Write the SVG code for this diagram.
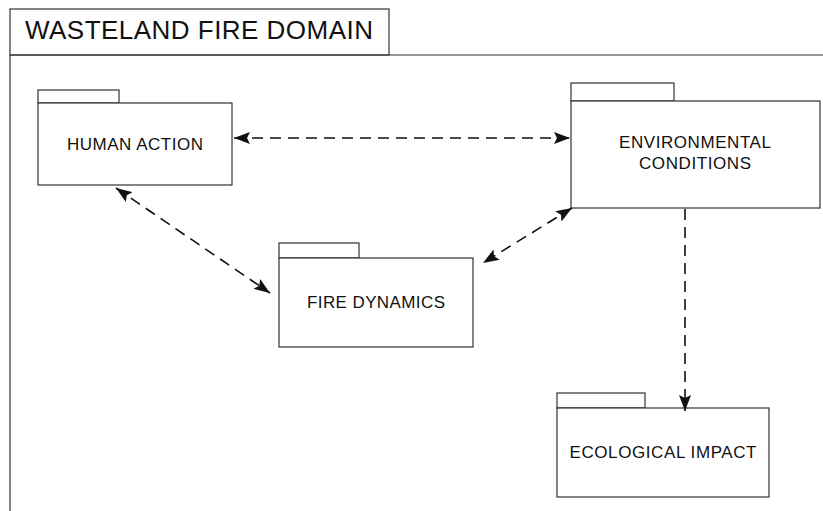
<svg xmlns="http://www.w3.org/2000/svg" width="823" height="511" viewBox="0 0 823 511">
<style>
.box{fill:#fff;stroke:#333;stroke-width:1.2}
.lbl{font-family:"Liberation Sans",Arial,sans-serif;font-size:17px;fill:#111;text-anchor:middle}
.title{font-family:"Liberation Sans",Arial,sans-serif;font-size:26px;fill:#111}
.conn{stroke:#111;stroke-width:1.6;stroke-dasharray:11 7;fill:none}
</style>
<defs>
<marker id="ah" viewBox="0 0 16 12" refX="16" refY="6" markerWidth="16" markerHeight="12" markerUnits="userSpaceOnUse" orient="auto-start-reverse">
<path d="M0,0 L16,6 L0,12 L3,6 Z" fill="#111"/>
</marker>
</defs>
<rect width="823" height="511" fill="#fff"/>
<g id="frame">
<rect class="box" x="10" y="9" width="379" height="46"/>
<path d="M10,55 H823 M10,55 V511" stroke="#333" stroke-width="1.2" fill="none"/>
<text class="title" x="25" y="39" textLength="348">WASTELAND FIRE DOMAIN</text>
</g>
<g id="human-action">
<rect class="box" x="38" y="90" width="81" height="13"/>
<rect class="box" x="38" y="103" width="194" height="82"/>
<text class="lbl" x="135" y="150" textLength="136">HUMAN ACTION</text>
</g>
<g id="environmental-conditions">
<rect class="box" x="571" y="83" width="103" height="18"/>
<rect class="box" x="571" y="101" width="249" height="107"/>
<text class="lbl" x="695" y="148" textLength="152">ENVIRONMENTAL</text>
<text class="lbl" x="695" y="169" textLength="112">CONDITIONS</text>
</g>
<g id="fire-dynamics">
<rect class="box" x="279" y="243" width="80" height="15"/>
<rect class="box" x="279" y="258" width="194" height="89"/>
<text class="lbl" x="376" y="308" textLength="138">FIRE DYNAMICS</text>
</g>
<g id="ecological-impact">
<rect class="box" x="557" y="393" width="88" height="15"/>
<rect class="box" x="557" y="408" width="212" height="89"/>
<text class="lbl" x="663" y="458" textLength="187">ECOLOGICAL IMPACT</text>
</g>
<g id="connectors">
<line class="conn" x1="234" y1="138" x2="570" y2="138" marker-start="url(#ah)" marker-end="url(#ah)"/>
<line class="conn" x1="116" y1="188" x2="270" y2="293" marker-start="url(#ah)" marker-end="url(#ah)"/>
<line class="conn" x1="572" y1="208" x2="483" y2="263" marker-start="url(#ah)" marker-end="url(#ah)"/>
<line class="conn" x1="685" y1="209" x2="685" y2="411" marker-end="url(#ah)"/>
</g>
</svg>
